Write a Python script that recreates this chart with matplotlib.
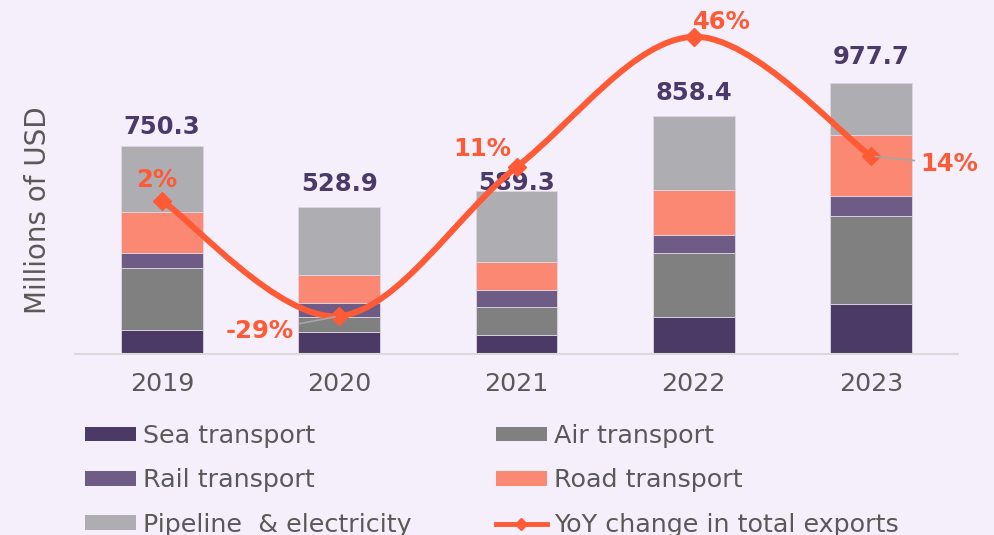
import numpy as np
import matplotlib
matplotlib.use("Agg")
import matplotlib.pyplot as plt
from matplotlib.path import Path
from matplotlib.patches import PathPatch, Patch
from matplotlib.lines import Line2D

# data
years = ["2019", "2020", "2021", "2022", "2023"]
sea = [85.5, 80.4, 68.5, 134.6, 180.4]
air = [223.7, 53.0, 102.0, 229.8, 317.5]
rail = [54.1, 50.5, 59.0, 66.0, 72.2]
road = [150.1, 99.9, 101.0, 162.3, 220.0]
pipeline = [237.0, 245.1, 258.8, 265.7, 187.6]
totals = [750.3, 528.9, 589.3, 858.4, 977.7]
yoy = [0.02, -0.29, 0.11, 0.46, 0.14]
yoy_labels = ["2%", "-29%", "11%", "46%", "14%"]

series = [("Sea transport", sea, "#4B3A66"),
          ("Air transport", air, "#808080"),
          ("Rail transport", rail, "#6E5C86"),
          ("Road transport", road, "#FA8872"),
          ("Pipeline  & electricity", pipeline, "#AEADB2")]

bg = "#F5EFFB"
line_col = "#FF5A36"
text_col = "#595959"
total_col = "#4A3A6A"
fs = 18.3
fs_bold = 17.5

plt.rcParams["font.family"] = ["DejaVu Sans"]

fig = plt.figure(figsize=(9.94, 5.35), dpi=100)
fig.patch.set_facecolor(bg)
ax = fig.add_axes([75/994, 1-354/535, 883/994, 344/535])
ax.set_facecolor(bg)

x = np.arange(len(years))
bottom = np.zeros(len(years))
handles = {}
for name, vals, col in series:
    ax.bar(x, vals, 0.46, bottom=bottom, color=col,
           edgecolor="#DCD6E4", linewidth=0.6, zorder=2)
    handles[name] = Patch(facecolor=col, edgecolor="none")
    bottom += np.array(vals)

# total labels above the bars
label_dy = [5, 8, -3, 8, 10]
for xi, tot, dy in zip(x, totals, label_dy):
    ax.annotate(f"{tot:.1f}", (xi, bottom[xi]), xytext=(0, dy),
                textcoords="offset points", ha="center", va="bottom",
                fontsize=fs_bold, fontweight="bold", color=total_col, zorder=3)

ax.set_xlim(-0.49, len(years) - 0.51)
ax.set_ylim(0, 1241)
ax.set_xticks(x)
ax.set_xticklabels(years, fontsize=fs, color=text_col)
ax.tick_params(axis="x", length=0, pad=13)
ax.set_yticks([])
for s in ["top", "right", "left"]:
    ax.spines[s].set_visible(False)
ax.spines["bottom"].set_color("#D9D9D9")
ax.spines["bottom"].set_linewidth(1.5)

fig.text(38/994, 1-210/535, "Millions of USD", rotation=90, ha="center",
         va="center", fontsize=20, color=text_col)

# secondary axis for YoY change, smoothed line like excel
ax2 = ax.twinx()
ax2.set_ylim(-0.392, 0.532)
ax2.axis("off")

pts = np.column_stack([x, yoy]).astype(float)
ext = np.vstack([pts[0], pts, pts[-1]])
verts = [tuple(pts[0])]
codes = [Path.MOVETO]
for i in range(1, len(ext) - 2):
    p0, p1, p2, p3 = ext[i-1], ext[i], ext[i+1], ext[i+2]
    c1 = p1 + (p2 - p0) / 6
    c2 = p2 - (p3 - p1) / 6
    verts += [tuple(c1), tuple(c2), tuple(p2)]
    codes += [Path.CURVE4] * 3
ax2.add_patch(PathPatch(Path(verts, codes), facecolor="none",
                        edgecolor=line_col, lw=4.3, capstyle="round", zorder=4))
ax2.plot(x, yoy, linestyle="none", marker="D", markersize=9,
         color=line_col, zorder=5)

# yoy labels, offsets in points
offs = [(-4, 15), (-57, -11), (-25, 13), (20, 11), (56, -6)]
for xi, v, lab, off in zip(x, yoy, yoy_labels, offs):
    leader = off[0] ** 2 > 1500
    ax2.annotate(lab, (xi, v), xytext=off, textcoords="offset points",
                 ha="center", va="center", fontsize=fs_bold, fontweight="bold",
                 color=line_col, zorder=6,
                 arrowprops=dict(arrowstyle="-", color="#A6A6A6", lw=1.2,
                                 shrinkA=2, shrinkB=3) if leader else None)

line_handle = Line2D([0, 1, 2], [0, 0, 0], color=line_col, lw=3.5,
                     marker="D", markersize=6, markevery=[1])

leg_kw = dict(frameon=False, fontsize=fs, labelcolor=text_col, borderpad=0,
              borderaxespad=0, handlelength=2.0, handleheight=0.5,
              handletextpad=0.3, labelspacing=0.8, loc="upper left")
fig.legend([handles["Sea transport"], handles["Rail transport"],
            handles["Pipeline  & electricity"]],
           ["Sea transport", "Rail transport", "Pipeline  & electricity"],
           bbox_to_anchor=(85/994, 1-424/535), **leg_kw)
fig.legend([handles["Air transport"], handles["Road transport"], line_handle],
           ["Air transport", "Road transport", "YoY change in total exports"],
           bbox_to_anchor=(496/994, 1-424/535), **leg_kw)

fig.savefig("out.png", dpi=100, facecolor=bg)
